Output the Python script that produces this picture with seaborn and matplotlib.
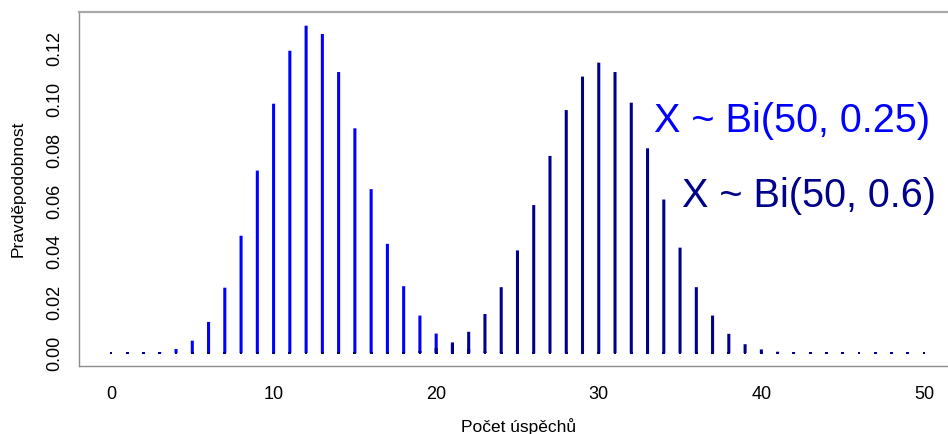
import numpy as np
import pandas as pd
import seaborn as sns
from matplotlib import pyplot as plt

# values (probability for each number of successes 0..50)
k = list(range(0, 51))
p_025 = [0.0000006, 0.0000094, 0.000077, 0.00041, 0.0016, 0.0049, 0.0123, 0.0258, 0.0463, 0.0720,
         0.0984, 0.1193, 0.1292, 0.1259, 0.1109, 0.0887, 0.0647, 0.0431, 0.0264, 0.0148,
         0.0077, 0.0036, 0.0016, 0.00065, 0.00024, 0.00008, 0.00002, 0.000006, 0.000001, 0.0000003,
         0.0000001, 0.0, 0.0, 0.0, 0.0, 0.0, 0.0, 0.0, 0.0, 0.0,
         0.0, 0.0, 0.0, 0.0, 0.0, 0.0, 0.0, 0.0, 0.0, 0.0, 0.0]
p_06 = [0.0, 0.0, 0.0, 0.0, 0.0, 0.0, 0.0, 0.0, 0.0, 0.0,
        0.0, 0.0, 0.0, 0.000001, 0.000003, 0.00001, 0.00003, 0.00012, 0.00034, 0.00086,
        0.0020, 0.0042, 0.0084, 0.0154, 0.0260, 0.0405, 0.0584, 0.0778, 0.0959, 0.1091,
        0.1146, 0.1109, 0.0988, 0.0808, 0.0606, 0.0416, 0.0260, 0.0148, 0.0076, 0.0035,
        0.00144, 0.00053, 0.00017, 0.00005, 0.00001, 0.000003, 0.0000006, 0.0000001, 0.0, 0.0, 0.0]
labels = ['X ~ Bi(50, 0.25)', 'X ~ Bi(50, 0.6)']
colors = ['#0000FF', '#00008B']

df = pd.DataFrame({'k': k, 'p025': p_025, 'p06': p_06})
df['base'] = 0.0

sns.set_style('white')
plt.rcParams['font.family'] = ['Liberation Sans', 'DejaVu Sans']

fig = plt.figure(figsize=(9.48, 4.34), dpi=100)
ax = fig.add_axes([0.0833, 0.1567, 0.9167, 0.8157])

for col, c in zip(['p025', 'p06'], colors):
    ax.vlines(df['k'], 0, df[col], colors=c, linewidth=2.2, snap=False)

# the second series is drawn last, so its foot shows as a small dark dot at every k
sns.scatterplot(data=df, x='k', y='base', marker='s', s=4, color=colors[1],
                edgecolor='none', ax=ax, zorder=3)

ax.set_xlim(-1.97, 51.48)
ax.set_ylim(-0.0051, 0.1346)
ax.set_xticks([0, 10, 20, 30, 40, 50])
ax.set_yticks([0.0, 0.02, 0.04, 0.06, 0.08, 0.10, 0.12])
ax.set_yticklabels(['0.00', '0.02', '0.04', '0.06', '0.08', '0.10', '0.12'], rotation=90, va='center')

ax.tick_params(axis='both', labelsize=13, length=6.5, width=1, color='#808080',
               labelcolor='black', direction='out')
ax.tick_params(axis='x', pad=8)
ax.tick_params(axis='y', pad=5)

for side in ['left', 'bottom', 'top']:
    ax.spines[side].set_color('#8c8c8c')
    ax.spines[side].set_linewidth(1.0)
ax.spines['top'].set_color('#a8a8a8')
ax.spines['top'].set_linewidth(1.6)
ax.spines['right'].set_visible(False)

ax.set_xlabel('Počet úspěchů', fontsize=12.5, color='black')
ax.set_ylabel('Pravděpodobnost', fontsize=12.5, color='black', va='center')
ax.xaxis.set_label_coords(0.506, -0.147)
ax.yaxis.set_label_coords(-0.070, 0.5)

ax.text(33.4, 0.0914, labels[0], color=colors[0], fontsize=28.5, va='center', ha='left')
ax.text(35.1, 0.0618, labels[1], color=colors[1], fontsize=28.5, va='center', ha='left')

plt.savefig('out.png', dpi=100)
